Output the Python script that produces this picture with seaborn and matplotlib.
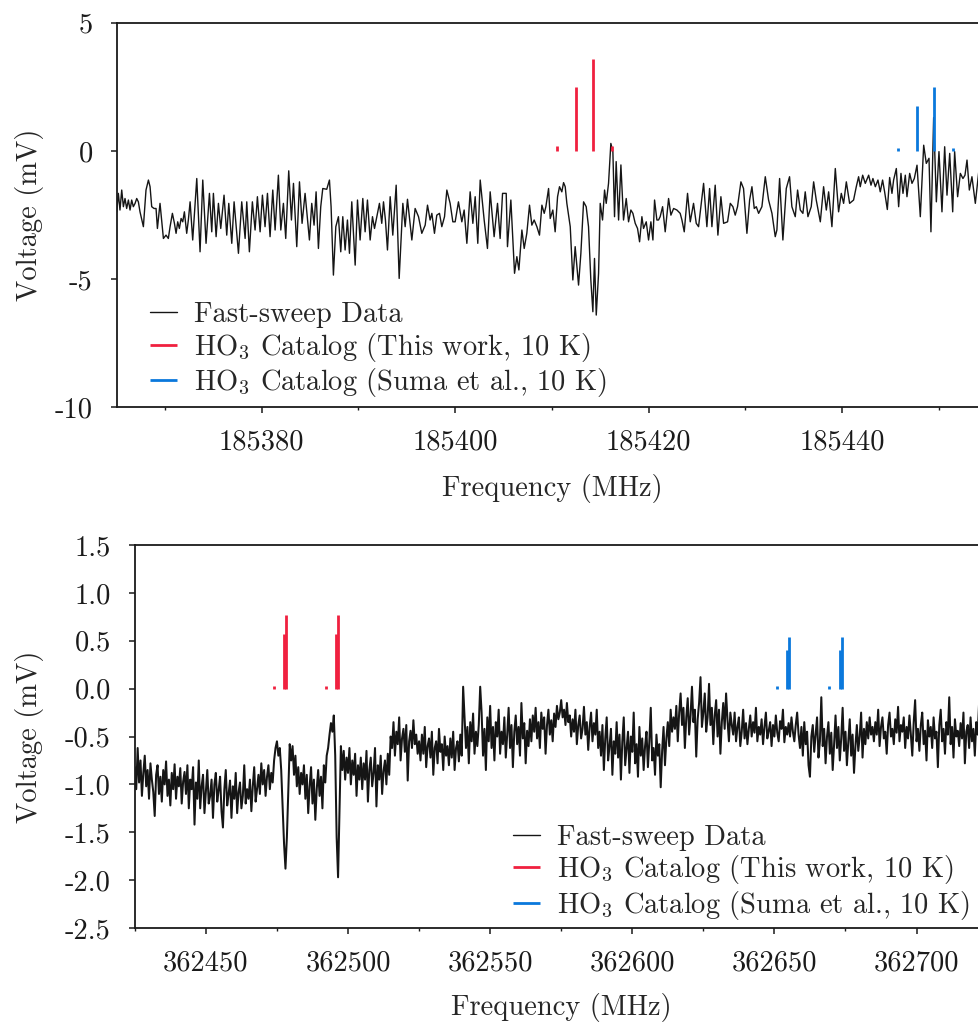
import numpy as np
import pandas as pd
import matplotlib
matplotlib.use("Agg")
import matplotlib.pyplot as plt
import seaborn as sns

# ---------------- data ----------------
# Panel 1: fast-sweep trace near 185.4 GHz (MHz, mV)
freq_a = [
    185365.00, 185365.17, 185365.34, 185365.52, 185365.69, 185365.86, 185366.03, 185366.21,
    185366.38, 185366.55, 185366.72, 185366.90, 185367.07, 185367.24, 185367.41, 185367.76,
    185368.03, 185368.28, 185368.45, 185368.62, 185368.86, 185369.07, 185369.21, 185369.48,
    185369.83, 185370.10, 185370.34, 185370.52, 185370.76, 185370.97, 185371.14, 185371.31,
    185371.48, 185371.66, 185371.83, 185372.00, 185372.24, 185372.41, 185372.59, 185372.86,
    185373.28, 185373.62, 185373.90, 185374.24, 185374.59, 185374.83, 185375.00, 185375.28,
    185375.52, 185375.76, 185376.10, 185376.38, 185376.59, 185376.90, 185377.14, 185377.59,
    185377.93, 185378.28, 185378.45, 185378.72, 185379.03, 185379.31, 185379.55, 185379.83,
    185380.07, 185380.34, 185380.59, 185380.86, 185381.14, 185381.38, 185381.72, 185381.97,
    185382.24, 185382.48, 185382.79, 185383.07, 185383.28, 185383.62, 185383.90, 185384.17,
    185384.48, 185384.72, 185384.93, 185385.17, 185385.41, 185385.62, 185385.86, 185386.10,
    185386.31, 185386.72, 185387.00, 185387.17, 185387.41, 185387.66, 185387.93, 185388.17,
    185388.38, 185388.62, 185388.86, 185389.07, 185389.31, 185389.66, 185389.90, 185390.17,
    185390.45, 185390.69, 185390.93, 185391.21, 185391.45, 185391.66, 185391.90, 185392.17,
    185392.41, 185392.59, 185392.79, 185393.00, 185393.28, 185393.55, 185393.90, 185394.21,
    185394.59, 185394.83, 185395.07, 185395.52, 185395.86, 185396.21, 185396.55, 185396.90,
    185397.14, 185397.41, 185397.59, 185397.86, 185398.10, 185398.38, 185398.62, 185398.90,
    185399.14, 185399.48, 185399.76, 185400.00, 185400.34, 185400.69, 185400.93, 185401.21,
    185401.55, 185401.83, 185402.07, 185402.34, 185402.59, 185403.00, 185403.34, 185403.62,
    185404.03, 185404.38, 185404.65, 185404.90, 185405.28, 185405.41, 185405.76, 185406.14,
    185406.38, 185406.59, 185406.90, 185407.14, 185407.41, 185407.69, 185407.93, 185408.17,
    185408.45, 185408.72, 185408.97, 185409.21, 185409.38, 185409.66, 185409.83, 185410.10,
    185410.34, 185410.59, 185410.79, 185411.03, 185411.21, 185411.38, 185411.55, 185411.90,
    185412.17, 185412.41, 185412.76, 185413.00, 185413.28, 185413.55, 185413.79, 185414.03,
    185414.24, 185414.41, 185414.59, 185414.83, 185415.00, 185415.24, 185415.45, 185415.62,
    185415.86, 185416.10, 185416.31, 185416.48, 185416.65, 185416.90, 185417.14, 185417.41,
    185417.69, 185417.93, 185418.17, 185418.38, 185418.62, 185418.86, 185419.07, 185419.31,
    185419.48, 185419.76, 185420.00, 185420.24, 185420.45, 185420.62, 185420.86, 185421.03,
    185421.20, 185421.45, 185421.72, 185422.07, 185422.31, 185422.59, 185422.93, 185423.27,
    185423.45, 185423.69, 185424.03, 185424.31, 185424.65, 185424.93, 185425.17, 185425.69,
    185426.03, 185426.31, 185426.55, 185426.89, 185427.17, 185427.48, 185427.76, 185428.17,
    185428.45, 185428.72, 185428.96, 185429.20, 185429.55, 185429.82, 185430.17, 185430.45,
    185430.69, 185430.93, 185431.14, 185431.38, 185431.72, 185432.07, 185432.41, 185432.76,
    185433.10, 185433.27, 185433.55, 185433.89, 185434.24, 185434.58, 185434.82, 185435.17,
    185435.41, 185435.69, 185435.96, 185436.20, 185436.48, 185436.82, 185437.07, 185437.34,
    185437.76, 185438.10, 185438.38, 185438.62, 185438.96, 185439.31, 185439.65, 185439.93,
    185440.17, 185440.45, 185440.79, 185441.20, 185441.48, 185441.72, 185441.89, 185442.14,
    185442.41, 185442.76, 185443.00, 185443.20, 185443.45, 185443.72, 185443.96, 185444.20,
    185444.41, 185444.69, 185444.93, 185445.17, 185445.34, 185445.62, 185445.86, 185446.10,
    185446.31, 185446.55, 185446.72, 185447.00, 185447.24, 185447.48, 185447.76, 185448.10,
    185448.45, 185448.72, 185449.00, 185449.20, 185449.48, 185449.76, 185450.03, 185450.34,
    185450.62, 185450.86, 185451.14, 185451.45, 185451.65, 185451.96, 185452.24, 185452.51,
    185452.72, 185452.93, 185453.17, 185453.44, 185453.79, 185454.20, 185454.50, 185455.00,
]
volt_a = [
    -2.38, -1.66, -2.31, -1.53, -2.18, -1.86, -2.25, -1.92,
    -2.31, -1.92, -2.18, -2.05, -1.86, -1.99, -2.38, -2.96,
    -1.53, -1.14, -1.40, -2.18, -2.25, -2.25, -3.03, -2.05,
    -3.42, -3.29, -3.42, -2.96, -2.44, -2.83, -3.22, -2.77,
    -3.03, -2.64, -2.77, -2.38, -3.22, -2.70, -1.99, -3.48,
    -1.08, -3.94, -1.14, -3.61, -1.66, -3.16, -1.66, -3.35,
    -2.05, -3.03, -1.73, -3.29, -2.05, -3.61, -1.99, -4.00,
    -1.99, -3.42, -1.99, -3.94, -1.99, -3.09, -1.79, -3.16,
    -1.73, -2.96, -1.66, -3.35, -1.53, -3.09, -0.95, -3.09,
    -2.05, -3.42, -0.78, -2.70, -1.27, -3.74, -1.21, -2.83,
    -1.66, -2.64, -3.48, -2.05, -2.90, -1.60, -3.81, -2.18,
    -1.47, -1.50, -1.14, -2.18, -4.85, -2.96, -2.57, -3.94,
    -2.57, -3.87, -2.70, -4.00, -1.99, -4.46, -1.92, -3.48,
    -1.86, -3.16, -1.92, -3.48, -2.57, -3.03, -2.57, -2.05,
    -2.83, -1.99, -2.70, -3.87, -1.79, -3.29, -1.34, -4.98,
    -2.05, -2.96, -1.89, -3.48, -2.25, -2.57, -3.22, -2.90,
    -2.12, -2.70, -2.44, -3.22, -2.51, -2.44, -2.96, -2.57,
    -1.53, -2.05, -2.77, -2.77, -1.99, -2.77, -2.31, -3.61,
    -1.60, -2.83, -1.79, -3.61, -1.14, -2.70, -3.81, -1.60,
    -3.35, -2.05, -3.42, -1.66, -1.66, -3.74, -1.92, -4.78,
    -4.13, -4.65, -3.09, -3.81, -3.22, -2.12, -2.90, -2.70,
    -2.96, -3.29, -2.12, -2.44, -2.18, -1.47, -2.64, -2.31,
    -3.16, -1.79, -1.40, -1.60, -1.24, -1.40, -2.05, -2.96,
    -5.04, -3.74, -5.24, -4.00, -1.99, -2.18, -2.96, -5.04,
    -6.28, -4.20, -6.41, -4.78, -2.05, -2.70, -1.53, -2.05,
    -1.27, 0.29, -0.03, -2.57, -0.42, -2.70, -0.55, -2.70,
    -1.86, -2.77, -2.31, -2.44, -2.83, -3.03, -3.55, -2.57,
    -3.03, -2.77, -3.48, -2.77, -3.48, -1.92, -2.70, -2.70,
    -2.57, -2.18, -3.16, -1.86, -2.51, -2.25, -2.31, -2.44,
    -2.70, -3.16, -1.66, -2.77, -2.05, -2.83, -2.96, -1.27,
    -2.96, -1.47, -2.96, -1.34, -3.29, -1.79, -2.83, -2.77,
    -2.05, -2.18, -2.51, -2.18, -1.21, -1.47, -3.22, -1.92,
    -1.40, -2.25, -2.18, -2.44, -2.18, -1.01, -1.92, -2.44,
    -3.35, -3.09, -1.08, -3.48, -1.47, -1.01, -2.18, -2.57,
    -1.53, -2.31, -2.44, -1.60, -2.57, -2.18, -1.21, -1.92,
    -2.77, -1.40, -2.31, -1.60, -2.96, -0.69, -2.38, -1.66,
    -2.05, -1.21, -2.05, -1.92, -1.40, -1.01, -1.40, -0.95,
    -1.27, -0.95, -1.34, -1.08, -1.40, -1.14, -1.60, -1.14,
    -1.60, -2.29, -1.04, -1.66, -1.14, -0.69, -2.18, -0.88,
    -1.66, -0.95, -1.79, -0.88, -1.27, -1.08, -0.56, -2.57,
    0.22, -0.49, -0.29, -3.16, 1.30, -1.99, -0.03, -2.38,
    0.16, -1.73, -0.10, -2.38, -0.03, -1.79, -0.88, -1.08,
    -0.95, -0.36, -1.53, -1.01, -2.05, -0.62, -1.00, -0.80,
]

# Panel 1 catalog lines (MHz, relative intensity in mV)
cat_new_a_freq = [185410.58, 185412.51, 185414.30, 185416.24]
cat_new_a_int = [0.18, 2.50, 3.59, 0.18]
cat_suma_a_freq = [185445.75, 185447.71, 185449.55, 185451.48]
cat_suma_a_int = [0.12, 1.75, 2.50, 0.12]

# Panel 2: fast-sweep trace near 362.6 GHz, sampled every 0.5 MHz from 362425 MHz
freq_b_start, freq_b_step = 362425.0, 0.5
volt_b = [
    -0.82, -1.05, -0.62, -0.98, -0.75, -1.12, -0.88, -0.70, -1.02, -0.85, -1.15, -0.78, -0.95, -1.08, -1.33, -0.90, -0.80, -1.10, -0.92, -1.18,
    -0.85, -1.00, -0.76, -1.12, -0.95, -1.22, -0.88, -1.05, -0.79, -1.15, -0.92, -1.02, -0.83, -1.20, -0.97, -0.87, -1.10, -0.80, -1.25, -0.95,
    -1.05, -0.82, -1.42, -0.98, -1.15, -0.75, -1.25, -1.02, -0.90, -1.30, -1.08, -0.85, -1.20, -1.12, -0.95, -1.35, -1.00, -0.88, -1.18, -1.06,
    -0.92, -1.28, -1.45, -1.05, -0.85, -1.22, -1.10, -0.96, -1.35, -1.02, -1.15, -0.88, -1.30, -1.08, -0.98, -1.25, -1.12, -0.80, -1.20, -1.05,
    -1.15, -0.95, -1.28, -1.02, -0.82, -1.18, -1.05, -0.90, -1.10, -0.78, -1.00, -0.85, -1.12, -0.92, -0.80, -1.05, -0.88, -0.98, -0.75, -0.62,
    -0.55, -0.70, -0.62, -0.85, -1.25, -1.62, -1.88, -1.55, -1.05, -0.58, -0.75, -0.60, -0.90, -0.70, -1.02, -0.82, -1.10, -0.88, -1.00, -0.80,
    -1.15, -0.90, -1.30, -1.02, -0.82, -1.20, -0.95, -1.37, -1.05, -0.85, -1.12, -0.92, -1.25, -0.80, -0.98, -0.70, -0.62, -0.48, -0.36, -0.45,
    -0.28, -0.70, -1.55, -1.97, -1.30, -0.60, -0.85, -0.65, -0.95, -0.72, -0.88, -0.62, -1.00, -0.75, -0.90, -0.68, -1.12, -0.80, -0.95, -0.72,
    -1.05, -0.78, -0.95, -0.65, -1.18, -0.85, -0.72, -1.02, -0.88, -0.62, -1.23, -0.80, -0.95, -0.70, -1.10, -0.86, -0.75, -1.00, -0.68, -0.90,
    -0.50, -0.62, -0.35, -0.70, -0.45, -0.58, -0.30, -0.75, -0.52, -0.42, -0.66, -0.38, -0.96, -0.55, -0.44, -0.62, -0.33, -0.58, -0.48, -0.68,
    -0.55, -0.75, -0.48, -0.68, -0.40, -0.82, -0.60, -0.52, -0.72, -0.45, -0.90, -0.62, -0.55, -0.78, -0.42, -0.66, -0.58, -0.85, -0.50, -0.70,
    -0.60, -0.80, -0.52, -0.72, -0.45, -0.85, -0.62, -0.55, -0.76, -0.48, -0.70, 0.02, -0.30, -0.62, -0.40, -0.78, -0.35, -0.55, -0.26, -0.68,
    -0.45, -0.60, -0.38, 0.02, -0.25, -0.70, -0.42, -0.85, -0.30, -0.55, -0.18, -0.62, -0.40, -0.75, -0.35, -0.50, -0.22, -0.68, -0.45, -0.58,
    -0.30, -0.72, -0.48, -0.20, -0.62, -0.38, -0.82, -0.45, -0.28, -0.58, -0.40, -0.70, -0.15, -0.52, -0.36, -0.78, -0.44, -0.60, -0.32, -0.55,
    -0.28, -0.45, -0.20, -0.52, -0.35, -0.62, -0.25, -0.42, -0.30, -0.68, -0.38, -0.22, -0.48, -0.33, -0.55, -0.26, -0.40, -0.18, -0.32, -0.25,
    -0.12, -0.30, -0.22, -0.38, -0.15, -0.35, -0.28, -0.50, -0.32, -0.45, -0.22, -0.58, -0.38, -0.28, -0.52, -0.42, -0.19, -0.48, -0.35, -0.64,
    -0.40, -0.25, -0.55, -0.36, -0.48, -0.22, -0.62, -0.45, -0.70, -0.38, -0.85, -0.52, -0.30, -0.75, -0.60, -0.42, -0.90, -0.55, -0.68, -0.35,
    -0.72, -0.48, -0.95, -0.55, -0.30, -0.80, -0.62, -0.45, -0.88, -0.50, -0.66, -0.25, -0.78, -0.58, -0.92, -0.40, -0.70, -0.52, -0.85, -0.60,
    -0.45, -0.82, -0.55, -0.20, -0.75, -0.62, -0.90, -0.48, -0.70, -0.58, -1.03, -0.65, -0.40, -0.80, -0.52, -0.35, -0.60, -0.22, -0.45, -0.30,
    -0.42, -0.18, -0.55, -0.25, -0.05, -0.38, -0.20, -0.62, -0.30, -0.10, -0.48, -0.28, 0.02, -0.35, -0.22, -0.71, -0.32, -0.15, 0.12, -0.40,
    -0.25, -0.05, -0.45, -0.30, 0.05, -0.38, -0.20, -0.58, -0.28, -0.12, -0.50, -0.22, -0.68, -0.35, -0.15, -0.42, -0.05, -0.33, -0.55, -0.25,
    -0.38, -0.48, -0.25, -0.55, -0.40, -0.30, -0.60, -0.45, -0.22, -0.52, -0.36, -0.58, -0.42, -0.28, -0.50, -0.35, -0.46, -0.20, -0.55, -0.40,
    -0.48, -0.32, -0.58, -0.40, -0.25, -0.52, -0.44, -0.35, -0.60, -0.38, -0.50, -0.28, -0.46, -0.55, -0.34, -0.42, -0.22, -0.56, -0.40, -0.48,
    -0.36, -0.50, -0.30, -0.45, -0.55, -0.38, -0.25, -0.48, -0.62, -0.40, -0.70, -0.35, -0.58, -0.45, -0.80, -0.92, -0.50, -0.38, -0.66, -0.48,
    -0.30, -0.72, -0.55, -0.09, -0.60, -0.42, -0.78, -0.50, -0.35, -0.68, -0.46, -0.85, -0.58, -0.28, -0.62, -0.40, -0.75, -0.52, -0.20, -0.65,
    -0.45, -0.80, -0.55, -0.32, -0.70, -0.48, -0.88, -0.60, -0.38, -0.65, -0.50, -0.25, -0.72, -0.42, -0.58, -0.35, -0.52, -0.30, -0.48, -0.40,
    -0.55, -0.35, -0.48, -0.22, -0.60, -0.40, -0.30, -0.52, -0.45, -0.68, -0.38, -0.25, -0.50, -0.42, -0.58, -0.32, -0.46, -0.19, -0.55, -0.38,
    -0.45, -0.30, -0.62, -0.40, -0.52, -0.28, -0.48, -0.70, -0.35, -0.12, -0.55, -0.42, -0.65, -0.38, -0.25, -0.58, -0.44, -0.75, -0.33, -0.50,
    -0.40, -0.62, -0.30, -0.52, -0.45, -0.82, -0.38, -0.22, -0.55, -0.42, -0.68, -0.35, -0.48, -0.09, -0.58, -0.40, -0.72, -0.32, -0.50, -0.44,
    -0.60, -0.36, -0.52, -0.25, -0.78, -0.45, -0.38, -0.62, -0.30, -0.55, -0.42, -0.70, -0.35, -0.48, -0.15, -0.58, -0.40, -0.52, -0.45, -0.38,
    -0.42,
]

# Panel 2 catalog lines
cat_new_b_freq = [362473.8, 362477.4, 362478.2, 362492.3, 362495.8, 362496.5]
cat_new_b_int = [0.03, 0.57, 0.77, 0.03, 0.57, 0.77]
cat_suma_b_freq = [362650.9, 362654.6, 362655.1, 362669.2, 362673.0, 362673.6]
cat_suma_b_int = [0.03, 0.40, 0.54, 0.03, 0.40, 0.54]

# Axis ticks
xticks_a = [185380, 185400, 185420, 185440]
xminor_a = [185370, 185390, 185410, 185430, 185450]
yticks_a = [5, 0, -5, -10]
ytick_labels_a = ["5", "0", "-5", "-10"]
xticks_b = [362450, 362500, 362550, 362600, 362650, 362700]
xminor_b = [362425, 362475, 362525, 362575, 362625, 362675, 362725]
yticks_b = [1.5, 1.0, 0.5, 0.0, -0.5, -1.0, -1.5, -2.0, -2.5]
ytick_labels_b = ["1.5", "1.0", "0.5", "0.0", "-0.5", "-1.0", "-1.5", "-2.0", "-2.5"]

label_data = "Fast-sweep Data"
label_new = r"HO$_3$ Catalog (This work, 10 K)"
label_suma = r"HO$_3$ Catalog (Suma et al., 10 K)"

# ---------------- style ----------------
FS = 20.5
sns.set_theme(style="ticks")
plt.rcParams.update({
    "font.family": ["cmr10"],
    "mathtext.fontset": "cm",
    "axes.unicode_minus": False,
    "axes.formatter.use_mathtext": True,
    "font.size": FS,
    "axes.labelsize": FS,
    "legend.fontsize": FS,
    "xtick.labelsize": FS,
    "ytick.labelsize": FS,
    "axes.linewidth": 1.3,
    "axes.edgecolor": "#1a1a1a",
    "xtick.direction": "out",
    "ytick.direction": "out",
    "xtick.major.size": 4.2,
    "ytick.major.size": 4.2,
    "xtick.minor.size": 2.4,
    "xtick.major.width": 1.1,
    "ytick.major.width": 1.1,
    "xtick.minor.width": 1.0,
    "xtick.color": "#1a1a1a",
    "ytick.color": "#1a1a1a",
})

RED = "#f0203f"
BLUE = "#0a78dc"
TRACE = "#151515"

fig = plt.figure(figsize=(9.79, 10.25), dpi=100)
ax1 = fig.add_axes([0.1192, 0.6029, 0.889, 0.3749])
ax2 = fig.add_axes([0.1377, 0.0946, 0.8711, 0.3737])

df_a = pd.DataFrame({"freq": freq_a, "volt": volt_a})
freq_b = freq_b_start + freq_b_step * np.arange(len(volt_b))
df_b = pd.DataFrame({"freq": freq_b, "volt": volt_b})


def draw_panel(ax, df, new_f, new_i, suma_f, suma_i, lw_trace):
    """Trace first, then the two stick catalogs on top of it."""
    sns.lineplot(data=df, x="freq", y="volt", ax=ax, color=TRACE,
                 linewidth=lw_trace, label=label_data, estimator=None, sort=False)
    ax.vlines(new_f, 0, new_i, colors=RED, linewidth=2.0, label=label_new)
    ax.vlines(suma_f, 0, suma_i, colors=BLUE, linewidth=2.0, label=label_suma)


draw_panel(ax1, df_a, cat_new_a_freq, cat_new_a_int, cat_suma_a_freq, cat_suma_a_int, 1.0)
draw_panel(ax2, df_b, cat_new_b_freq, cat_new_b_int, cat_suma_b_freq, cat_suma_b_int, 1.45)

ax1.set_xlim(185365, 185455)
ax1.set_ylim(-10, 5)
ax1.set_xticks(xticks_a)
ax1.set_xticklabels([str(t) for t in xticks_a])
ax1.set_xticks(xminor_a, minor=True)
ax1.set_yticks(yticks_a)
ax1.set_yticklabels(ytick_labels_a)

ax2.set_xlim(362425, 362725)
ax2.set_ylim(-2.5, 1.5)
ax2.set_xticks(xticks_b)
ax2.set_xticklabels([str(t) for t in xticks_b])
ax2.set_xticks(xminor_b, minor=True)
ax2.set_yticks(yticks_b)
ax2.set_yticklabels(ytick_labels_b)

for ax in (ax1, ax2):
    for s in ax.spines.values():
        s.set_visible(True)
    ax.tick_params(axis="x", which="both", pad=12)
    ax.tick_params(axis="y", which="both", pad=13)
    ax.set_xlabel("Frequency (MHz)", fontsize=FS)
    ax.set_ylabel("Voltage (mV)", fontsize=FS)

ax1.xaxis.set_label_coords(0.5, -0.174)
ax2.xaxis.set_label_coords(0.5, -0.170)
ax1.yaxis.set_label_coords(-0.0836, 0.5)
ax2.yaxis.set_label_coords(-0.1065, 0.5)

leg_kw = dict(frameon=False, handlelength=0.93, handletextpad=0.62,
              labelspacing=0.08, borderpad=0.0, borderaxespad=0.0,
              fontsize=FS, loc="center left")
for ax, anchor in ((ax1, (0.0383, 0.147)), (ax2, (0.4435, 0.143))):
    leg = ax.legend(bbox_to_anchor=anchor, **leg_kw)
    # keep the trace's legend key thin in both panels
    leg.legend_handles[0].set_linewidth(1.0)

fig.savefig("out.png", dpi=100)
